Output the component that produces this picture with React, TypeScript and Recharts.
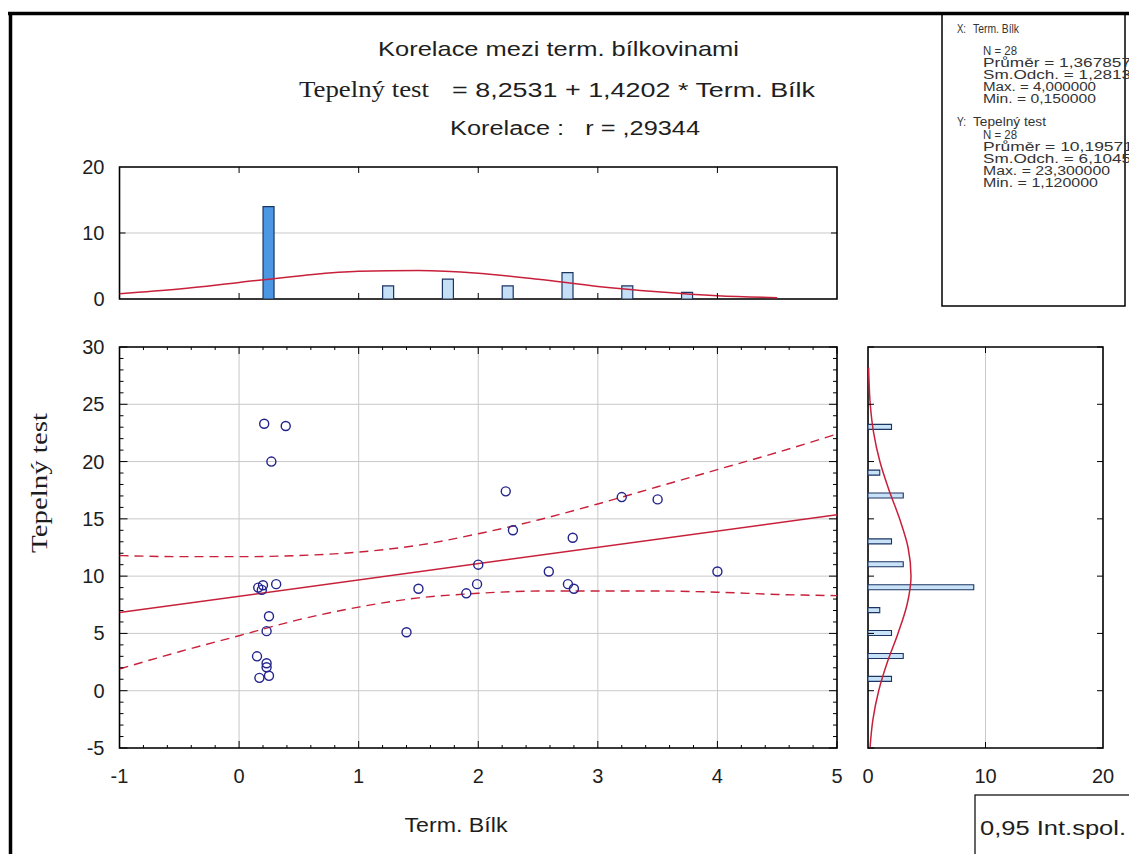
import React from 'react';
import { ComposedChart, XAxis, YAxis, CartesianGrid, Scatter, Line, Bar, Cell, ReferenceArea } from 'recharts';

// ---------------- data ----------------
const pointX = [0.21, 0.39, 0.27, 0.16, 0.19, 0.20, 0.31, 0.25, 0.23, 0.15, 0.23, 0.23, 0.25, 0.17,
  1.50, 1.40, 2.23, 2.29, 2.79, 3.20, 3.50, 2.00, 2.59, 4.00, 1.99, 1.90, 2.75, 2.80];
const pointY = [23.3, 23.1, 20.0, 9.0, 8.8, 9.2, 9.3, 6.5, 5.2, 3.0, 2.4, 2.05, 1.3, 1.12,
  8.9, 5.1, 17.4, 14.0, 13.35, 16.9, 16.7, 11.0, 10.4, 10.4, 9.3, 8.5, 9.3, 8.9];

const fitX = [-1, 5];
const fitY = [6.83, 15.35];

const bandX = [-1, -0.5, 0, 0.5, 1, 1.5, 2, 2.5, 3, 3.5, 4, 4.5, 5];
const bandUpper = [11.8, 11.7, 11.7, 11.8, 12.1, 12.7, 13.7, 14.9, 16.3, 17.8, 19.3, 20.8, 22.4];
const bandLower = [1.9, 3.4, 4.8, 6.2, 7.3, 8.1, 8.5, 8.7, 8.7, 8.7, 8.6, 8.4, 8.3];

const histXMid = [0.25, 1.25, 1.75, 2.25, 2.75, 3.25, 3.75];
const histXCount = [14, 2, 3, 2, 4, 2, 1];
const normXPos = [-1, -0.5, 0, 0.5, 1, 1.5, 2, 2.5, 3, 3.5, 4, 4.5];
const normXVal = [0.8, 1.5, 2.5, 3.5, 4.2, 4.3, 3.9, 3.0, 1.9, 1.1, 0.5, 0.2];

const histYMid = [1, 3, 5, 7, 9, 11, 13, 17, 19, 23];
const histYCount = [2, 3, 2, 1, 9, 3, 2, 3, 1, 2];
const normYPos = [-5, -2.5, 0, 2.5, 5, 7.5, 10, 12.5, 15, 17.5, 20, 22.5, 25, 27.5, 28.2];
const normYVal = [0.17, 0.42, 0.91, 1.65, 2.55, 3.32, 3.66, 3.41, 2.69, 1.79, 1.01, 0.48, 0.19, 0.07, 0.05];

const mainXTicks = [-1, 0, 1, 2, 3, 4, 5];
const mainYTicks = [-5, 0, 5, 10, 15, 20, 25, 30];
const topXTicks = [0, 1, 2, 3, 4];
const topYTicks = [0, 10, 20];
const rightXTicks = [0, 10, 20];

const statsXHead = ['X:', 'Term. Bílk'];
const statsXLines = ['N = 28', 'Průměr = 1,367857', 'Sm.Odch. = 1,2813', 'Max. = 4,000000', 'Min. = 0,150000'];
const statsYHead = ['Y:', 'Tepelný test'];
const statsYLines = ['N = 28', 'Průměr = 10,19571', 'Sm.Odch. = 6,1045', 'Max. = 23,300000', 'Min. = 1,120000'];

// ---------------- derived tables ----------------
const points = pointX.map((x, i) => ({ x, y: pointY[i] }));
const fitData = fitX.map((x, i) => ({ x, y: fitY[i] }));
const bandData = bandX.map((x, i) => ({ x, hi: bandUpper[i], lo: bandLower[i] }));
const histTop = histXMid.map((x, i) => ({ x, n: histXCount[i] }));
const normTop = normXPos.map((x, i) => ({ x, n: normXVal[i] }));
const histRight = histYMid.map((y, i) => ({ y, n: histYCount[i] }));
const normRight = normYPos.map((y, i) => ({ y, n: normYVal[i] }));

const minorX = Array.from({ length: 31 }, (_, i) => Math.round((-1 + i * 0.2) * 10) / 10);
const minorY = Array.from({ length: 36 }, (_, i) => -5 + i);

// ---------------- style ----------------
const W = 1129;
const H = 854;
const TINY = 0.01;
const SANS = "'Liberation Sans', Arial, sans-serif";
const SERIF = "'Liberation Serif', 'Times New Roman', serif";
const RED = '#c8203a';
const NAVY = '#23238c';
const GRID = '#c9c9c9';
const TXT = '#1e1e1e';

const MAIN = { left: 119.5, right: 837, top: 347, bottom: 748 };
const TOP = { top: 167, bottom: 299 };
const RIGHT = { left: 868, right: 1103 };

// x-axis tick: inward tick marks at bottom (p.y) and top (p.top) edges, optional label
const XTick = (p: any) => {
  const v = p.payload.value;
  const major = p.majors.includes(v);
  const len = major ? p.major : p.minor;
  return (
    <g>
      {len > 0 && <line x1={p.x} x2={p.x} y1={p.y} y2={p.y - len} stroke="#000" strokeWidth={1} />}
      {len > 0 && <line x1={p.x} x2={p.x} y1={p.top} y2={p.top + len} stroke="#000" strokeWidth={1} />}
      {p.labels.includes(v) && (
        <text x={p.x} y={p.y + 35} textAnchor="middle" fontFamily={SANS} fontSize={20} fill={TXT}>{v}</text>
      )}
    </g>
  );
};
// y-axis tick: inward tick marks at left (p.x) and right (p.right) edges, optional label
const YTick = (p: any) => {
  const v = p.payload.value;
  const major = p.majors.includes(v);
  const len = major ? p.major : p.minor;
  return (
    <g>
      {len > 0 && <line x1={p.x} x2={p.x + len} y1={p.y} y2={p.y} stroke="#000" strokeWidth={1} />}
      {len > 0 && <line x1={p.right} x2={p.right - len} y1={p.y} y2={p.y} stroke="#000" strokeWidth={1} />}
      {p.labels.includes(v) && (
        <text x={p.x - 15} y={p.y + 7} textAnchor="end" fontFamily={SANS} fontSize={20} fill={TXT}>{v}</text>
      )}
    </g>
  );
};

const frameStyle = { fill: 'none', stroke: '#000', strokeWidth: 1.6, fillOpacity: 0 };

function MainScatter() {
  return (
    <ComposedChart width={W} height={H} data={points}
      margin={{ left: MAIN.left, right: W - MAIN.right, top: MAIN.top, bottom: H - MAIN.bottom }}>
      <XAxis xAxisId="x" type="number" dataKey="x" domain={[-1, 5]} ticks={minorX} height={TINY}
        axisLine={false} tickLine={false} tickSize={0} tickMargin={0} interval={0} allowDataOverflow
        tick={<XTick top={MAIN.top} majors={mainXTicks} labels={mainXTicks} major={7} minor={3} />} />
      <YAxis yAxisId="y" type="number" dataKey="y" domain={[-5, 30]} ticks={minorY} width={TINY}
        axisLine={false} tickLine={false} tickSize={0} tickMargin={0} interval={0} allowDataOverflow
        tick={<YTick right={MAIN.right} majors={mainYTicks} labels={mainYTicks} major={8} minor={4} />} />
      <CartesianGrid xAxisId="x" yAxisId="y" stroke={GRID} strokeWidth={1}
        verticalValues={mainXTicks} horizontalValues={mainYTicks} />
      <Line xAxisId="x" yAxisId="y" data={bandData} dataKey="hi" type="monotone" stroke={RED} strokeWidth={1.4}
        strokeDasharray="9 6" dot={false} activeDot={false} isAnimationActive={false} />
      <Line xAxisId="x" yAxisId="y" data={bandData} dataKey="lo" type="monotone" stroke={RED} strokeWidth={1.4}
        strokeDasharray="9 6" dot={false} activeDot={false} isAnimationActive={false} />
      <Line xAxisId="x" yAxisId="y" data={fitData} dataKey="y" type="linear" stroke={RED} strokeWidth={1.5}
        dot={false} activeDot={false} isAnimationActive={false} />
      <Scatter xAxisId="x" yAxisId="y" data={points} dataKey="y" fill="none" stroke={NAVY} strokeWidth={1.4}
        isAnimationActive={false} />
      <ReferenceArea xAxisId="x" yAxisId="y" x1={-1} x2={5} y1={-5} y2={30} ifOverflow="visible" {...frameStyle} />
    </ComposedChart>
  );
}

function TopHist() {
  return (
    <ComposedChart width={W} height={H} data={histTop}
      margin={{ left: MAIN.left, right: W - MAIN.right, top: TOP.top, bottom: H - TOP.bottom }}>
      <XAxis xAxisId="x" type="number" dataKey="x" domain={[-1, 5]} ticks={topXTicks} height={TINY}
        axisLine={false} tickLine={false} tickSize={0} tickMargin={0} interval={0} allowDataOverflow
        tick={<XTick top={TOP.top} majors={topXTicks} labels={[]} major={6} minor={0} />} />
      <YAxis yAxisId="y" type="number" domain={[0, 20]} ticks={topYTicks} width={TINY}
        axisLine={false} tickLine={false} tickSize={0} tickMargin={0} interval={0} allowDataOverflow
        tick={<YTick right={MAIN.right} majors={[10]} labels={topYTicks} major={6} minor={0} />} />
      <CartesianGrid xAxisId="x" yAxisId="y" vertical={false} stroke={GRID} horizontalValues={topYTicks} />
      <Bar xAxisId="x" yAxisId="y" dataKey="n" barSize={11} stroke="#1c3561" strokeWidth={1.2} isAnimationActive={false}>
        {histTop.map((d, i) => (
          <Cell key={i} fill={d.n > 8 ? '#4b97e4' : '#c4dff6'} />
        ))}
      </Bar>
      <Line xAxisId="x" yAxisId="y" data={normTop} dataKey="n" type="monotone" stroke={RED} strokeWidth={1.5}
        dot={false} activeDot={false} isAnimationActive={false} />
      <ReferenceArea xAxisId="x" yAxisId="y" x1={-1} x2={5} y1={0} y2={20} ifOverflow="visible" {...frameStyle} />
    </ComposedChart>
  );
}

function RightHist() {
  return (
    <ComposedChart width={W} height={H} data={histRight} layout="vertical"
      margin={{ left: RIGHT.left, right: W - RIGHT.right, top: MAIN.top, bottom: H - MAIN.bottom }}>
      <XAxis xAxisId="x" type="number" domain={[0, 20]} ticks={rightXTicks} height={TINY}
        axisLine={false} tickLine={false} tickSize={0} tickMargin={0} interval={0} allowDataOverflow
        tick={<XTick top={MAIN.top} majors={[10]} labels={rightXTicks} major={6} minor={0} />} />
      <YAxis yAxisId="y" type="number" dataKey="y" domain={[-5, 30]} ticks={mainYTicks} reversed width={TINY}
        axisLine={false} tickLine={false} tickSize={0} tickMargin={0} interval={0} allowDataOverflow
        tick={<YTick right={RIGHT.right} majors={mainYTicks} labels={[]} major={6} minor={0} />} />
      <CartesianGrid xAxisId="x" yAxisId="y" horizontal={false} stroke={GRID} verticalValues={[10]} />
      <Bar xAxisId="x" yAxisId="y" dataKey="n" barSize={5} fill="#c8e2f8" stroke="#1c3561" strokeWidth={1.1}
        isAnimationActive={false} />
      <Line xAxisId="x" yAxisId="y" data={normRight} dataKey="n" type="monotone" stroke={RED} strokeWidth={1.5}
        dot={false} activeDot={false} isAnimationActive={false} />
      <ReferenceArea xAxisId="x" yAxisId="y" x1={0} x2={20} y1={-5} y2={30} ifOverflow="visible" {...frameStyle} />
    </ComposedChart>
  );
}

export default function App() {
  const layer: React.CSSProperties = { position: 'absolute', left: 0, top: 0 };
  return (
    <div style={{ position: 'absolute', left: 0, top: 0, width: W, height: H, overflow: 'hidden', background: '#fff' }}>
      <div style={layer}><TopHist /></div>
      <div style={layer}><MainScatter /></div>
      <div style={layer}><RightHist /></div>
      <svg style={layer} width={W} height={H}>
        {/* outer border */}
        <line x1={8} y1={13.5} x2={W} y2={13.5} stroke="#000" strokeWidth={3.5} />
        <line x1={10.5} y1={12} x2={10.5} y2={H} stroke="#000" strokeWidth={3.5} />

        {/* titles */}
        <text x={378} y={56} fontFamily={SANS} fontSize={21} fill={TXT} textLength={361} lengthAdjust="spacingAndGlyphs">
          Korelace mezi term. bílkovinami
        </text>
        <text x={299} y={97} fontFamily={SERIF} fontSize={24} fill={TXT} textLength={130} lengthAdjust="spacingAndGlyphs">
          Tepelný test
        </text>
        <text x={452} y={97} fontFamily={SANS} fontSize={20} fill={TXT} textLength={363} lengthAdjust="spacingAndGlyphs">
          = 8,2531 + 1,4202 * Term. Bílk
        </text>
        <text x={450} y={135} fontFamily={SANS} fontSize={20} fill={TXT} textLength={250} lengthAdjust="spacingAndGlyphs"
          style={{ whiteSpace: 'pre' }}>
          {'Korelace :   r = ,29344'}
        </text>

        {/* axis titles */}
        <text x={456} y={832} textAnchor="middle" fontFamily={SANS} fontSize={20} fill={TXT} textLength={103}
          lengthAdjust="spacingAndGlyphs">
          Term. Bílk
        </text>
        <text transform="translate(47,483) rotate(-90)" x={0} y={0} textAnchor="middle" fontFamily={SERIF} fontSize={23}
          fill={TXT} textLength={140} lengthAdjust="spacingAndGlyphs">
          Tepelný test
        </text>

        {/* statistics box */}
        <rect x={942} y={13} width={183} height={293} fill="none" stroke="#000" strokeWidth={1.5} />
        <g fontFamily={SANS} fontSize={12.5} fill="#333">
          <text x={957} y={33} textLength={9} lengthAdjust="spacingAndGlyphs">{statsXHead[0]}</text>
          <text x={973} y={33} textLength={46} lengthAdjust="spacingAndGlyphs">{statsXHead[1]}</text>
          {statsXLines.map((t, i) => (
            <text key={'x' + i} x={983} y={55 + i * 12} textLength={[34, 148, 148, 113, 113][i]} lengthAdjust="spacingAndGlyphs">{t}</text>
          ))}
          <text x={957} y={126} textLength={9} lengthAdjust="spacingAndGlyphs">{statsYHead[0]}</text>
          <text x={973} y={126} textLength={73} lengthAdjust="spacingAndGlyphs">{statsYHead[1]}</text>
          {statsYLines.map((t, i) => (
            <text key={'y' + i} x={983} y={139 + i * 12} textLength={[34, 150, 148, 127, 115][i]} lengthAdjust="spacingAndGlyphs">{t}</text>
          ))}
        </g>

        {/* legend box */}
        <rect x={975} y={795} width={200} height={100} fill="#fff" stroke="#000" strokeWidth={1.2} />
        <text x={980} y={835} fontFamily={SANS} fontSize={20} fill={TXT} textLength={146} lengthAdjust="spacingAndGlyphs">
          0,95 Int.spol.
        </text>
      </svg>
    </div>
  );
}
